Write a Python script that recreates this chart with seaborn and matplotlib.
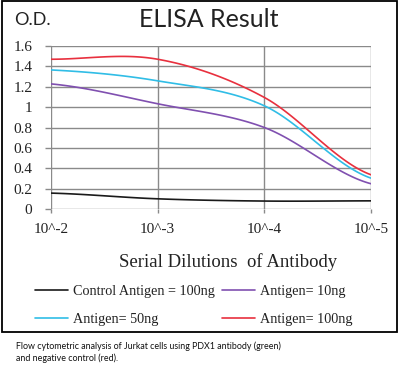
import numpy as np
import pandas as pd
import matplotlib
matplotlib.use("Agg")
import matplotlib.pyplot as plt
from matplotlib.lines import Line2D
from matplotlib.patches import Rectangle
import seaborn as sns

# ---- data ----
dilutions = ["10^-2", "10^-3", "10^-4", "10^-5"]
control_100 = [0.156, 0.100, 0.078, 0.080]
antigen_10 = [1.228, 1.033, 0.800, 0.248]
antigen_50 = [1.365, 1.258, 1.013, 0.303]
antigen_100 = [1.470, 1.470, 1.095, 0.336]
series_names = ["Control Antigen = 100ng", "Antigen= 10ng", "Antigen= 50ng", "Antigen= 100ng"]
series_values = [control_100, antigen_10, antigen_50, antigen_100]
colors = ["#1a1a1a", "#8050b0", "#30bde6", "#e8303e"]
yticks = [0, 0.2, 0.4, 0.6, 0.8, 1, 1.2, 1.4, 1.6]
ytick_labels = ["0", "0.2", "0.4", "0.6", "0.8", "1", "1.2", "1.4", "1.6"]


def smooth(xs, ys, n=40):
    """Catmull-Rom style smoothing (like Excel 'smoothed line')."""
    xs = np.asarray(xs, float)
    ys = np.asarray(ys, float)
    k = len(xs)
    m = np.zeros(k)
    for i in range(k):
        if i == 0:
            m[i] = (ys[1] - ys[0]) / 2
        elif i == k - 1:
            m[i] = (ys[-1] - ys[-2]) / 2
        else:
            m[i] = (ys[i + 1] - ys[i - 1]) / 2
    ox, oy = [], []
    for i in range(k - 1):
        t = np.linspace(0, 1, n, endpoint=(i == k - 2))
        h00 = 2 * t**3 - 3 * t**2 + 1
        h10 = t**3 - 2 * t**2 + t
        h01 = -2 * t**3 + 3 * t**2
        h11 = t**3 - t**2
        oy.extend(h00 * ys[i] + h10 * m[i] + h01 * ys[i + 1] + h11 * m[i + 1])
        ox.extend(xs[i] + t * (xs[i + 1] - xs[i]))
    return np.array(ox), np.array(oy)


rows = []
xpos = np.arange(len(dilutions))
for name, vals in zip(series_names, series_values):
    sx, sy = smooth(xpos, vals)
    for a, b in zip(sx, sy):
        rows.append({"x": a, "y": b, "series": name})
df = pd.DataFrame(rows)

sns.set_style("white")
plt.rcParams["font.family"] = ["Liberation Serif", "DejaVu Serif"]

fig = plt.figure(figsize=(4.0, 3.73), dpi=100)
ax = fig.add_axes([51 / 400, 1 - 209 / 373, 320 / 400, 163 / 373])

sns.lineplot(data=df, x="x", y="y", hue="series", hue_order=series_names,
             palette=colors, sort=False, estimator=None, legend=False,
             linewidth=1.2, ax=ax, zorder=3)

ax.set_xlim(0, 3)
ax.set_ylim(0, 1.6)
ax.set_xticks(xpos)
ax.set_xticklabels(dilutions)
ax.set_yticks(yticks)
ax.set_yticklabels(ytick_labels)
ax.set_xlabel("")
ax.set_ylabel("")
ax.grid(True, color="#8a8a8a", linewidth=1.0, zorder=0)
for s in ax.spines.values():
    s.set_visible(False)
ax.tick_params(axis="y", length=4, width=1.0, color="#8a8a8a", pad=9.5,
               labelsize=11, labelcolor="#222222", left=True)
ax.tick_params(axis="x", length=3, width=1.0, color="#8a8a8a", pad=7,
               labelsize=11, labelcolor="#222222", bottom=True)

# titles
fig.text(208.5 / 400, 1 - 27 / 373, "ELISA Result", ha="center", va="baseline",
         fontsize=18, family=["Lato", "DejaVu Sans"], color="#222222")
fig.text(14 / 400, 1 - 25 / 373, "O.D.", ha="left", va="baseline",
         fontsize=13, family=["Lato", "DejaVu Sans"], color="#222222")
fig.text(228 / 400, 1 - 267 / 373, "Serial Dilutions  of Antibody", ha="center",
         va="baseline", fontsize=13.5, color="#222222")

# legend (row-major order via column-major handles)
handles = {n: Line2D([], [], color=c, linewidth=1.2) for n, c in zip(series_names, colors)}
order = [series_names[0], series_names[2], series_names[1], series_names[3]]
fig.legend([handles[n] for n in order], order, loc="upper left",
           bbox_to_anchor=(35 / 400, 1 - 285 / 373), ncol=2, frameon=False,
           fontsize=10.2, borderpad=0, borderaxespad=0, handlelength=2.3,
           handletextpad=0.35, columnspacing=0.55, labelspacing=1.03,
           labelcolor="#222222")

# caption
fig.text(16 / 400, 1 - 352 / 373,
         "Flow cytometric analysis of Jurkat cells using PDX1 antibody (green)\nand negative control (red).",
         ha="left", va="center", fontsize=6.4, family=["Lato", "DejaVu Sans"],
         linespacing=1.35, color="#111111")

# outer frame
fig.patches.append(Rectangle((1.5 / 400, 1 - 332 / 373), 395.5 / 400, 331 / 373,
                             transform=fig.transFigure, fill=False,
                             edgecolor="black", linewidth=1.3))

fig.savefig("out.png", dpi=100)
